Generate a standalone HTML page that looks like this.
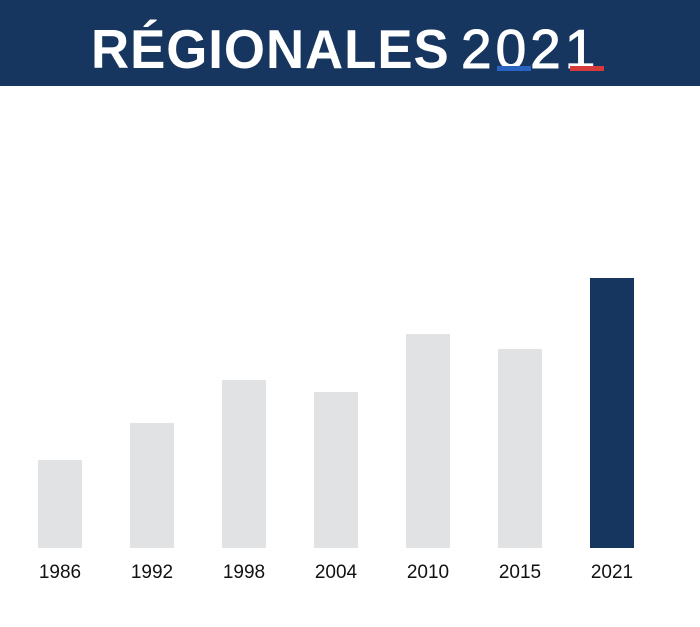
<!DOCTYPE html>
<html><head><style>
body{margin:0;width:700px;height:627px;background:#fff;position:relative;overflow:hidden;font-family:"Liberation Sans",sans-serif}
.hdr{position:absolute;left:0;top:0;width:700px;height:86px;background:#17365f}
.t1{position:absolute;left:91px;top:14px;font-size:55px;font-weight:bold;color:#fff;letter-spacing:1px;line-height:70px;transform:scaleX(0.96);transform-origin:left}
.t2{position:absolute;left:461px;top:14px;font-size:55px;color:#fff;line-height:70px;letter-spacing:4px;-webkit-text-stroke:1px #fff}
.u{position:absolute;height:5px;top:66px}
.bar{position:absolute;width:44px;background:#e1e2e4}
.lb{position:absolute;top:562px;width:80px;text-align:center;font-size:19px;color:#111}
</style></head><body>
<div class="hdr">
<div class="t1">RÉGIONALES</div>
<div class="t2">2021</div>
<div class="u" style="left:497px;width:34px;background:#2a64c0"></div>
<div class="u" style="left:570px;width:34px;background:#d63a3a"></div>
</div>
<div class="bar" style="left:38px;top:460px;height:88px"></div>
<div class="bar" style="left:130px;top:423px;height:125px"></div>
<div class="bar" style="left:222px;top:380px;height:168px"></div>
<div class="bar" style="left:314px;top:392px;height:156px"></div>
<div class="bar" style="left:406px;top:334px;height:214px"></div>
<div class="bar" style="left:498px;top:349px;height:199px"></div>
<div class="bar" style="left:590px;top:278px;height:270px;background:#17365f"></div>
<div class="lb" style="left:20px">1986</div>
<div class="lb" style="left:112px">1992</div>
<div class="lb" style="left:204px">1998</div>
<div class="lb" style="left:296px">2004</div>
<div class="lb" style="left:388px">2010</div>
<div class="lb" style="left:480px">2015</div>
<div class="lb" style="left:572px">2021</div>
</body></html>
